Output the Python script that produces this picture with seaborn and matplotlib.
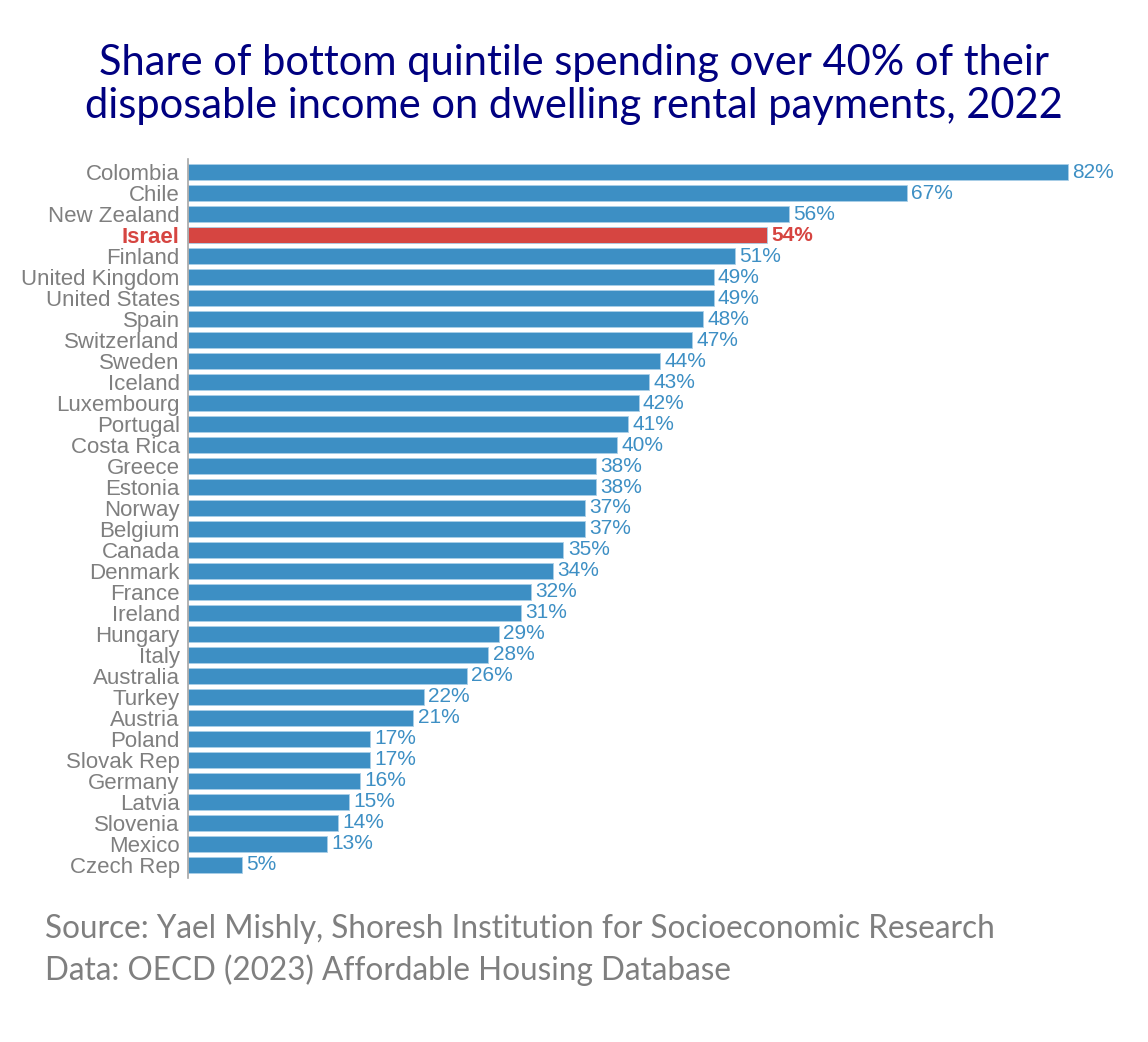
import matplotlib
matplotlib.use("Agg")
import matplotlib.pyplot as plt
import seaborn as sns
import pandas as pd

countries = ["Colombia", "Chile", "New Zealand", "Israel", "Finland", "United Kingdom",
             "United States", "Spain", "Switzerland", "Sweden", "Iceland", "Luxembourg",
             "Portugal", "Costa Rica", "Greece", "Estonia", "Norway", "Belgium", "Canada",
             "Denmark", "France", "Ireland", "Hungary", "Italy", "Australia", "Turkey",
             "Austria", "Poland", "Slovak Rep", "Germany", "Latvia", "Slovenia", "Mexico",
             "Czech Rep"]
share = [82, 67, 56, 54, 51, 49, 49, 48, 47, 44, 43, 42, 41, 40, 38, 38, 37, 37, 35,
         34, 32, 31, 29, 28, 26, 22, 21, 17, 17, 16, 15, 14, 13, 5]
highlight = "Israel"

blue = "#3d8fc4"
red = "#d64541"
grey = "#7f7f7f"

df = pd.DataFrame({"country": countries, "share": share})
colors = [red if c == highlight else blue for c in countries]

sns.set_style("white")
plt.rcParams["font.family"] = ["Liberation Sans", "DejaVu Sans"]

fig = plt.figure(figsize=(11.48, 10.42), dpi=100)
ax = fig.add_axes([0.1638, 0.1578, 0.958 - 0.1638, 0.8470 - 0.1578])

sns.barplot(data=df, y="country", x="share", hue="country", palette=colors,
            orient="h", width=0.72, legend=False, ax=ax, saturation=1,
            edgecolor="#a9cfe8", linewidth=0.6)

ax.set_xlim(0, 85)
ax.set_ylim(len(countries) - 0.4, -0.6)
ax.set_xlabel("")
ax.set_ylabel("")
ax.set_xticks([])
for s in ["top", "right", "bottom"]:
    ax.spines[s].set_visible(False)
ax.spines["left"].set_color("#a6a6a6")
ax.spines["left"].set_linewidth(1.2)
ax.tick_params(axis="y", length=0, pad=6, labelsize=16, labelcolor=grey)

for lab in ax.get_yticklabels():
    if lab.get_text() == highlight:
        lab.set_color(red)
        lab.set_fontweight("bold")

for i, (c, v) in enumerate(zip(countries, share)):
    is_h = c == highlight
    ax.text(v + 0.4, i, f"{v}%", va="center", ha="left", fontsize=15,
            color=red if is_h else blue, fontweight="bold" if is_h else "normal")

fig.text(0.5, 0.919, "Share of bottom quintile spending over 40% of their\n"
         "disposable income on dwelling rental payments, 2022",
         ha="center", va="center", fontsize=30, color="#000080",
         family=["Lato", "DejaVu Sans"], linespacing=1.15)

fig.text(0.039, 0.0883, "Source: Yael Mishly, Shoresh Institution for Socioeconomic Research\n"
         "Data: OECD (2023) Affordable Housing Database",
         ha="left", va="center", fontsize=22.7, color=grey,
         family=["Lato", "DejaVu Sans"], linespacing=1.39)

fig.savefig("out.png", dpi=100)
